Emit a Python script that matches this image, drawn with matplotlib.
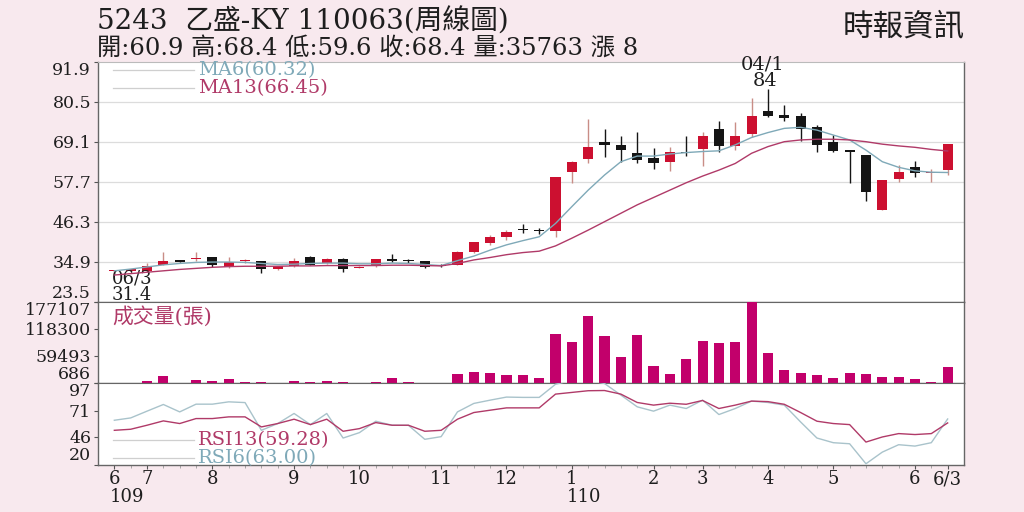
import matplotlib
matplotlib.use('Agg')
import matplotlib.pyplot as plt
import matplotlib.transforms as mtransforms
import numpy as np

plt.rcParams['font.family'] = ['DejaVu Serif', 'Noto Sans CJK TC']

# 週K資料 (109/06 ~ 110/06)
opens = [32.2, 32.3, 32.3, 34.1, 35.3, 35.6, 36.1, 33.5, 35.0, 35.1,
         32.7, 33.8, 36.3, 34.4, 35.8, 33.2, 33.7, 35.8, 35.1, 35.1,
         33.9, 34.1, 37.6, 40.3, 41.8, 44.1, 43.8, 43.6, 60.4, 64.1,
         69.1, 68.2, 65.8, 64.4, 63.2, 66.3, 67.0, 72.6, 67.9, 71.3,
         77.8, 76.7, 76.5, 73.4, 69.1, 66.5, 65.3, 49.6, 58.5, 61.8,
         60.2, 60.9]
highs = [32.6, 32.9, 34.4, 37.7, 35.4, 37.6, 36.2, 36.1, 35.8, 35.2,
         33.8, 36.0, 36.4, 36.0, 36.0, 33.6, 35.8, 37.0, 35.8, 35.2,
         34.2, 38.0, 40.6, 42.5, 43.9, 45.6, 44.4, 59.0, 63.7, 75.6,
         72.7, 70.7, 72.0, 67.2, 67.7, 70.7, 72.0, 75.0, 74.8, 81.5,
         84.0, 79.7, 77.2, 73.9, 70.9, 66.6, 65.3, 58.3, 62.6, 63.6,
         61.3, 68.4]
lows = [31.4, 32.1, 32.1, 34.0, 34.7, 35.2, 33.3, 33.2, 34.4, 31.6,
        32.5, 33.5, 34.0, 34.2, 32.0, 33.0, 33.5, 34.8, 34.5, 33.2,
        33.4, 33.9, 37.3, 39.7, 41.2, 43.2, 42.8, 42.0, 57.2, 62.9,
        64.6, 63.2, 63.0, 61.2, 60.8, 65.0, 62.2, 66.3, 66.7, 70.3,
        76.0, 75.1, 69.4, 66.1, 66.3, 57.2, 52.3, 49.5, 57.7, 59.1,
        57.7, 59.6]
closes = [32.3, 32.7, 33.6, 35.1, 34.8, 36.0, 33.9, 34.7, 35.1, 32.7,
          33.6, 35.2, 34.1, 35.8, 32.8, 33.5, 35.6, 35.1, 35.0, 33.5,
          33.8, 37.6, 40.4, 41.8, 43.5, 43.9, 43.6, 58.9, 63.2, 67.5,
          68.2, 66.7, 63.9, 63.1, 66.1, 65.8, 70.7, 67.9, 70.7, 76.5,
          76.5, 75.8, 72.6, 68.3, 66.5, 66.3, 54.9, 58.2, 60.4, 60.1,
          60.4, 68.4]
volumes = [700, 900, 5000, 15200, 900, 7800, 5000, 9400, 2200, 2200,
           900, 5000, 3500, 4500, 2200, 900, 2200, 10900, 2200, 1500,
           900, 19600, 25200, 23000, 18000, 18000, 10900, 107000, 89000, 146700,
           103300, 57100, 104900, 37600, 20900, 52800, 92500, 86800, 90300, 177107,
           65100, 28900, 23000, 17400, 10900, 21700, 19600, 13700, 13700, 9400,
           3500, 35763]
ma6 = [32.3, 32.8, 33.4, 34.0, 34.4, 34.7, 34.8, 34.8, 34.7, 34.4,
       34.1, 34.2, 34.4, 34.5, 34.5, 34.3, 34.3, 34.5, 34.4, 34.1,
       33.8, 35.2, 36.5, 38.2, 39.7, 40.9, 42.0, 45.8, 50.6, 55.3,
       59.6, 63.4, 65.0, 65.0, 65.6, 66.0, 66.3, 66.5, 68.2, 70.3,
       71.7, 72.9, 73.2, 72.4, 71.0, 69.6, 66.7, 63.4, 61.8, 60.8,
       60.4, 60.32]
ma13 = [31.1, 31.5, 31.9, 32.3, 32.7, 33.0, 33.3, 33.5, 33.6, 33.6,
        33.6, 33.7, 33.7, 33.8, 33.8, 33.8, 33.8, 33.9, 33.9, 33.8,
        33.7, 34.4, 35.4, 36.1, 36.9, 37.5, 37.9, 39.4, 41.6, 43.9,
        46.3, 48.7, 51.1, 53.2, 55.3, 57.4, 59.3, 61.0, 62.9, 65.8,
        67.7, 69.1, 69.6, 69.8, 69.8, 69.6, 69.1, 68.4, 67.9, 67.5,
        66.9, 66.45]
rsi6 = [61.8, 64.0, 70.4, 76.7, 69.7, 77.0, 77.0, 79.2, 78.5, 52.3,
        58.7, 68.2, 57.7, 68.2, 45.0, 50.1, 60.9, 57.1, 57.0, 43.8,
        46.3, 69.7, 77.7, 80.8, 83.7, 83.4, 83.4, 95.8, 99.5, 99.5,
        96.5, 85.6, 74.5, 70.4, 76.1, 72.9, 80.8, 67.2, 72.9, 79.9,
        78.6, 76.1, 60.2, 45.0, 40.6, 39.6, 20.7, 31.7, 38.7, 37.4,
        40.6, 63.00]
rsi13 = [52.3, 53.3, 57.1, 61.2, 58.7, 63.4, 63.4, 65.0, 65.0, 55.5,
         58.7, 62.8, 57.7, 62.8, 51.4, 53.9, 59.6, 57.1, 57.1, 51.4,
         52.3, 62.8, 69.1, 71.3, 73.5, 73.5, 73.5, 86.5, 88.1, 89.7,
         89.9, 86.5, 78.6, 76.1, 77.9, 76.9, 80.5, 72.9, 76.1, 79.9,
         79.4, 76.9, 69.1, 60.9, 58.7, 57.7, 41.2, 46.0, 49.2, 48.3,
         49.2, 59.28]

price_ticks = [23.5, 34.9, 46.3, 57.7, 69.1, 80.5, 91.9]
vol_ticks = [686, 59493, 118300, 177107]
rsi_ticks = [20, 46, 71, 97]
month_pos = [0, 2, 6, 11, 15, 20, 24, 28, 33, 36, 40, 44, 49, 51]
month_labels = ['6', '7', '8', '9', '10', '11', '12', '1', '2', '3', '4', '5', '6', '6/3']
year_marks = [(0, '109'), (28, '110')]

BG = '#f8e9ee'
RED = '#cc1030'
RED_WICK = '#c98d86'
BLACK = '#151515'
VOL_C = '#c2006b'
C6 = '#7fa9b8'
C13 = '#b03a68'
TXT = '#1e1e1e'

fig = plt.figure(figsize=(10.24, 5.12), dpi=100, facecolor=BG)
L, W = 98 / 1024, 866 / 1024
ax_p = fig.add_axes([L, 1 - 301.7 / 512, W, 240 / 512])
ax_v = fig.add_axes([L, 1 - 383 / 512, W, 81.3 / 512], sharex=ax_p)
ax_r = fig.add_axes([L, 1 - 464.5 / 512, W, 81.5 / 512], sharex=ax_p)

x = np.arange(len(closes))
o = np.array(opens); c = np.array(closes)
up = c >= o

# ---- K線 ----
for yv in price_ticks[1:-1]:
    ax_p.axhline(yv, color='#dcdcdc', lw=0.9, zorder=0)
ax_p.vlines(x[up], np.array(lows)[up], np.array(highs)[up], color=RED_WICK, lw=1.0, zorder=2)
ax_p.vlines(x[~up], np.array(lows)[~up], np.array(highs)[~up], color=BLACK, lw=1.0, zorder=2)
body_lo = np.minimum(o, c)
body_h = np.maximum(np.abs(c - o), 0.3)
ax_p.bar(x, body_h, bottom=body_lo, width=0.62,
         color=np.where(up, RED, BLACK), zorder=3)
ax_p.plot(x, ma6, color=C6, lw=1.0, zorder=4)
ax_p.plot(x, ma13, color=C13, lw=1.0, zorder=4)

# MA 圖例
for yy, lab, col in [(89.4, 'MA6(60.32)', C6), (84.4, 'MA13(66.45)', C13)]:
    ax_p.plot([-0.1, 4.9], [yy, yy], color='#cfcfcf', lw=0.9)
    ax_p.text(5.1, yy, lab, color=col, fontsize=14, va='center', ha='left')

ax_p.text(-0.15, 30.0, '06/3', fontsize=13, va='center', ha='left', color=TXT)
ax_p.text(-0.15, 25.4, '31.4', fontsize=13, va='center', ha='left', color=TXT, clip_on=False)
ax_p.text(39.7, 91.0, '04/1', fontsize=14, va='center', ha='center', color=TXT, clip_on=False)
ax_p.text(39.8, 86.3, '84', fontsize=14, va='center', ha='center', color=TXT)

ax_p.set_ylim(23.5, 91.9)
ax_p.set_yticks(price_ticks)
ax_p.set_yticklabels([f'{t:.1f}' for t in price_ticks])

# ---- 成交量 ----
ax_v.bar(x, volumes, width=0.62, color=VOL_C, zorder=3)
ax_v.set_ylim(686, 177107)
ax_v.set_yticks(vol_ticks)
ax_v.set_yticklabels([str(t) for t in vol_ticks])
ax_v.text(-0.15, 177107 * 0.82, '成交量(張)', color=C13, fontsize=15, va='center', ha='left')

# ---- RSI ----
ax_r.plot(x, rsi6, color='#a9c3cb', lw=1.0, zorder=3)
ax_r.plot(x, rsi13, color=C13, lw=1.0, zorder=4)
for yy, lab, col in [(43.5, 'RSI13(59.28)', C13), (26.0, 'RSI6(63.00)', C6)]:
    ax_r.plot([-0.1, 4.9], [yy, yy], color='#cfcfcf', lw=0.9)
    ax_r.text(5.1, yy, lab, color=col, fontsize=14, va='center', ha='left')
ax_r.set_ylim(20, 97)
ax_r.set_yticks(rsi_ticks)
ax_r.set_yticklabels([str(t) for t in rsi_ticks])

ax_r.set_xlim(-1.0, 52.0)
ax_r.set_xticks(month_pos)
ax_r.set_xticklabels(month_labels)
ax_r.set_xticks(x, minor=True)
ax_r.tick_params(axis='x', which='major', length=3, pad=1, labelsize=13, colors='#555', labelcolor=TXT)
ax_r.tick_params(axis='x', which='minor', length=2, colors='#999')
trans = mtransforms.blended_transform_factory(ax_r.transData, ax_r.transAxes)
for xp, yr in year_marks:
    ax_r.text(xp - 0.3, -0.40, yr, transform=trans, fontsize=13, ha='left', va='center', color=TXT)

for ax in (ax_p, ax_v, ax_r):
    ax.set_facecolor('white')
    ax.tick_params(axis='y', length=3, labelsize=12.5, colors='#555', labelcolor=TXT, pad=2)
    for s in ('left', 'right', 'bottom'):
        ax.spines[s].set_color('#666')
        ax.spines[s].set_linewidth(1.0)
    ax.spines['top'].set_color('#bbb')
    labs = ax.get_yticklabels()
    labs[0].set_va('bottom')
    labs[-1].set_va('top')
for ax in (ax_p, ax_v):
    ax.tick_params(axis='x', which='both', bottom=False, labelbottom=False)
ax_v.spines['top'].set_color('#666')
ax_r.spines['top'].set_color('#666')

# ---- 標題 ----
fig.text(97 / 1024, 1 - 21.5 / 512, '5243  乙盛-KY 110063(周線圖)', fontsize=20,
         color=TXT, va='center', ha='left')
fig.text(97 / 1024, 1 - 48.5 / 512, '開:60.9 高:68.4 低:59.6 收:68.4 量:35763 漲 8', fontsize=17.5,
         color=TXT, va='center', ha='left')
fig.text(965 / 1024, 1 - 28 / 512, '時報資訊', fontsize=22,
         color=TXT, va='center', ha='right')

fig.savefig('out.png', dpi=100, facecolor=BG)
